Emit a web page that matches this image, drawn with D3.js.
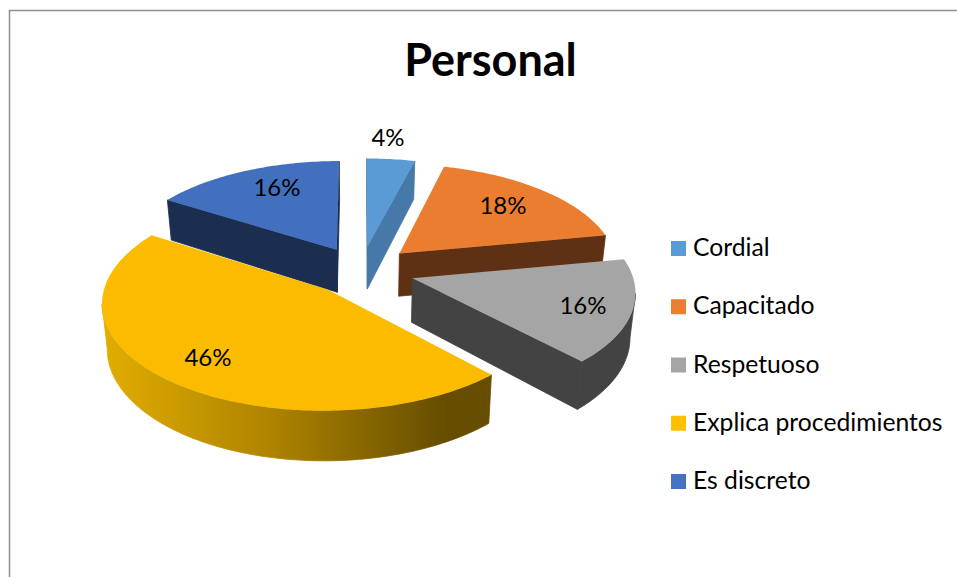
<!DOCTYPE html>
<html><head><meta charset="utf-8">
<script src="https://cdn.jsdelivr.net/npm/d3@7/dist/d3.min.js"></script>
<style>html,body{margin:0;padding:0;background:#fff;overflow:hidden}text{font-family:Lato,"Open Sans",sans-serif;fill:#000}</style>
</head><body><svg id="c" width="957" height="577"></svg>
<script>
const chartTitle = "Personal";
const categories = ["Cordial","Capacitado","Respetuoso","Explica procedimientos","Es discreto"];
const percentages = [4,18,16,46,16];
const topColors = ["#5b9bd5","#eb7d31","#a5a5a5","#fbbc00","#4270bf"];
const sideColors = ["#4679a7","#5f3114","#434343","#664d00","#1b2e50"];
const legendColors = ["#5b9bd5","#ed7d31","#a5a5a5","#ffc000","#4472c4"];
const explosions = [.24,.245,.245,.235,.235];

const svg = d3.select("#c");
const defs = svg.append("defs");
const grad = defs.append("linearGradient").attr("id","wallY").attr("gradientUnits","userSpaceOnUse")
  .attr("x1",105).attr("x2",445).attr("y1",0).attr("y2",0);
grad.append("stop").attr("offset",0).attr("stop-color","#e0ad00");
grad.append("stop").attr("offset",.5).attr("stop-color","#ad8200");
grad.append("stop").attr("offset",1).attr("stop-color","#664d00");

// frame
svg.append("path").attr("d","M9.5,577V10.5H957").attr("fill","none").attr("stroke","#8e8e8e").attr("stroke-width",1.5);

// perspective projection of the pie plane
const cx=361, cy=270.5, W=219, H=103, P=.112, D=43.5, shrink=.98;
const sOf = v => 1/(1-P*v);
const project = (u,v) => [cx+W*u*sOf(v), cy+H*v*sOf(v)];
const lower = (u,v) => { const [x,y]=project(u,v); return [cx+(x-cx)*shrink, y+D*sOf(v)]; };
const line = d3.line();

const arcs = d3.pie().sort(null).value(d=>d)(percentages);
const drawOrder = [4,0,1,2,3];
const g = svg.append("g");
drawOrder.forEach(i=>{
  const a = arcs[i], e = explosions[i];
  const mid=(a.startAngle+a.endAngle)/2;
  const ox=e*Math.sin(mid), oy=-e*Math.cos(mid);
  const rim = t => [ox+Math.sin(t), oy-Math.cos(t)];
  const n = Math.max(2,Math.ceil((a.endAngle-a.startAngle)/(Math.PI/180)));
  const ts = d3.range(n+1).map(k=>a.startAngle+(a.endAngle-a.startAngle)*k/n);
  const side = i===3 ? "url(#wallY)" : sideColors[i];
  const wallPts = ts.map(rim);
  // outer wall: only the run of rim points that faces the viewer
  let run=[];
  for(let k=0;k<n;k++){
    const p0=project(...wallPts[k]), p1=project(...wallPts[k+1]);
    if(p1[0]<p0[0]){ if(!run.length) run.push(wallPts[k]); run.push(wallPts[k+1]); }
  }
  if(run.length){
    g.append("path").attr("d",line([...run.map(p=>project(...p)),...run.slice().reverse().map(p=>lower(...p))])+"Z")
      .attr("fill",side).attr("stroke",side).attr("stroke-width",.8);
  }
  // radial faces: only those below the top surface
  const tipW=[ox,oy], tip=project(...tipW);
  const cen=project(ox+.5*Math.sin(mid),oy-.5*Math.cos(mid));
  [a.startAngle,a.endAngle].forEach(t=>{
    const rw=rim(t), b=project(...rw);
    let nx=-(b[1]-tip[1]), ny=b[0]-tip[0];
    if(ny<0){nx=-nx;ny=-ny;}
    if((cen[0]-tip[0])*nx+(cen[1]-tip[1])*ny<0){
      g.append("path").attr("d",line([tip,b,lower(...rw),lower(...tipW)])+"Z")
        .attr("fill",sideColors[i]).attr("stroke",sideColors[i]).attr("stroke-width",.8);
    }
  });
  // top surface
  g.append("path").attr("d",line([tip,...wallPts.map(p=>project(...p))])+"Z").attr("fill",topColors[i]);
});

// data labels
const labelPos = [[388,146],[503,214],[583,314],[208,366],[277,196]];
svg.append("g").selectAll("text").data(arcs).join("text")
  .attr("x",(d,i)=>labelPos[i][0]).attr("y",(d,i)=>labelPos[i][1])
  .attr("text-anchor","middle").attr("font-size",24)
  .text(d=>d.data+"%");

// title
svg.append("text").attr("x",490.5).attr("y",76).attr("text-anchor","middle")
  .attr("font-size",45).attr("font-weight",700).text(chartTitle);

// legend
const yLeg = d3.scalePoint().domain(categories).range([248.5,481.5]);
const leg = svg.append("g").selectAll("g").data(categories).join("g")
  .attr("transform",d=>`translate(671,${yLeg(d)})`);
leg.append("rect").attr("y",-7.5).attr("width",15).attr("height",15).attr("fill",(d,i)=>legendColors[i]);
leg.append("text").attr("x",22).attr("y",7.5).attr("font-size",24.7).text(d=>d);
</script></body></html>
